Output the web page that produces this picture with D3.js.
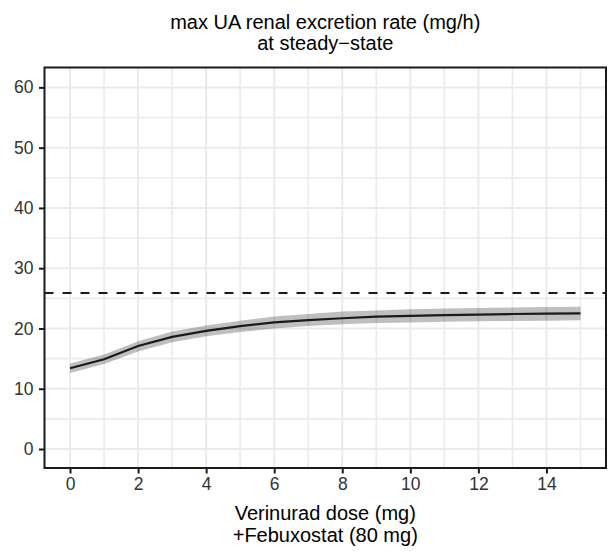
<!DOCTYPE html>
<html>
<head>
<meta charset="utf-8">
<script src="https://cdn.jsdelivr.net/npm/d3@7"></script>
<style>
  body { margin: 0; background: #fff; }
  text { font-family: "Liberation Sans", Arial, sans-serif; }
</style>
</head>
<body>
<script>
var svgWidth = 616;
var svgHeight = 553;

// verinurad dose (mg)
var doses = [0, 1, 2, 3, 4, 5, 6, 7, 8, 9, 10, 11, 12, 13, 14, 15];
// median max UA renal excretion rate (mg/h)
var median = [13.4, 14.9, 17.1, 18.6, 19.6, 20.4, 21.0, 21.4, 21.7, 21.95, 22.1, 22.2, 22.3, 22.4, 22.45, 22.5];
// band (lower / upper)
var lower = [12.6, 14.1, 16.2, 17.7, 18.7, 19.4, 20.0, 20.4, 20.7, 20.9, 21.0, 21.1, 21.2, 21.25, 21.3, 21.35];
var upper = [14.2, 15.7, 17.9, 19.5, 20.5, 21.3, 22.0, 22.4, 22.8, 23.0, 23.2, 23.3, 23.4, 23.5, 23.55, 23.6];
var refLine = 25.9;

var xTicks = [0, 2, 4, 6, 8, 10, 12, 14];
var yTicks = [0, 10, 20, 30, 40, 50, 60];
var titleLines = ["max UA renal excretion rate (mg/h)", "at steady\u2212state"];
var xTitleLines = ["Verinurad dose (mg)", "+Febuxostat (80 mg)"];

var margin = { top: 67.5, right: 10, bottom: 85, left: 44.5 };
var chartWidth = svgWidth - margin.left - margin.right;
var chartHeight = svgHeight - margin.top - margin.bottom;

var svg = d3.select("body").append("svg")
    .attr("width", svgWidth)
    .attr("height", svgHeight);

var chartGroup = svg.append("g")
    .attr("transform", `translate(${margin.left}, ${margin.top})`);

var xScale = d3.scaleLinear()
    .domain([-0.75, 15.75])
    .range([0, chartWidth]);

var yScale = d3.scaleLinear()
    .domain([-3.15, 63.3])
    .range([chartHeight, 0]);

// grid lines (minor then major)
var xMinor = d3.range(1, 16, 2);
var yMinor = d3.range(5, 61, 10);

chartGroup.selectAll(".vminor").data(xMinor).enter().append("line")
    .attr("x1", d => xScale(d)).attr("x2", d => xScale(d))
    .attr("y1", 0).attr("y2", chartHeight)
    .attr("stroke", "#ebebeb").attr("stroke-width", 1.6);
chartGroup.selectAll(".hminor").data(yMinor).enter().append("line")
    .attr("y1", d => yScale(d)).attr("y2", d => yScale(d))
    .attr("x1", 0).attr("x2", chartWidth)
    .attr("stroke", "#ebebeb").attr("stroke-width", 1.6);
chartGroup.selectAll(".vmajor").data(xTicks).enter().append("line")
    .attr("x1", d => xScale(d)).attr("x2", d => xScale(d))
    .attr("y1", 0).attr("y2", chartHeight)
    .attr("stroke", "#ebebeb").attr("stroke-width", 2);
chartGroup.selectAll(".hmajor").data(yTicks).enter().append("line")
    .attr("y1", d => yScale(d)).attr("y2", d => yScale(d))
    .attr("x1", 0).attr("x2", chartWidth)
    .attr("stroke", "#ebebeb").attr("stroke-width", 2);

// ribbon
var rows = doses.map((d, i) => ({ x: d, y: median[i], lo: lower[i], hi: upper[i] }));

var area = d3.area()
    .x(d => xScale(d.x))
    .y0(d => yScale(d.lo))
    .y1(d => yScale(d.hi));

chartGroup.append("path")
    .datum(rows)
    .attr("d", area)
    .attr("fill", "#000")
    .attr("fill-opacity", 0.25);

var line = d3.line()
    .x(d => xScale(d.x))
    .y(d => yScale(d.y));

chartGroup.append("path")
    .datum(rows)
    .attr("d", line)
    .attr("fill", "none")
    .attr("stroke", "#1a1a1a")
    .attr("stroke-width", 2.2);

// reference dashed line
chartGroup.append("line")
    .attr("x1", 0).attr("x2", chartWidth)
    .attr("y1", yScale(refLine)).attr("y2", yScale(refLine))
    .attr("stroke", "#1a1a1a")
    .attr("stroke-width", 2)
    .attr("stroke-dasharray", "9,9");

// panel border
chartGroup.append("rect")
    .attr("x", 0).attr("y", 0)
    .attr("width", chartWidth).attr("height", chartHeight)
    .attr("fill", "none")
    .attr("stroke", "#1a1a1a")
    .attr("stroke-width", 2);

// axes
var xAxis = chartGroup.append("g")
    .attr("transform", `translate(0,${chartHeight})`)
    .call(d3.axisBottom(xScale).tickValues(xTicks).tickSize(5.5).tickPadding(4));

var yAxis = chartGroup.append("g")
    .call(d3.axisLeft(yScale).tickValues(yTicks).tickSize(5.5).tickPadding(5.5));

[xAxis, yAxis].forEach(g => {
    g.select(".domain").remove();
    g.selectAll(".tick line").attr("stroke", "#1a1a1a").attr("stroke-width", 2);
    g.selectAll(".tick text")
        .attr("fill", "#333333")
        .style("font-size", "17.5px")
        .style("font-family", "'Liberation Sans', Arial, sans-serif");
});

// titles
var cx = margin.left + chartWidth / 2;
svg.append("text")
    .attr("text-anchor", "middle")
    .attr("x", cx).attr("y", 29)
    .style("font-size", "20px")
    .attr("fill", "#000")
    .selectAll("tspan").data(titleLines).enter().append("tspan")
    .attr("x", cx)
    .attr("dy", (d, i) => i === 0 ? 0 : 21)
    .text(d => d);

svg.append("text")
    .attr("text-anchor", "middle")
    .attr("x", cx).attr("y", 520)
    .style("font-size", "20px")
    .attr("fill", "#000")
    .selectAll("tspan").data(xTitleLines).enter().append("tspan")
    .attr("x", cx)
    .attr("dy", (d, i) => i === 0 ? 0 : 22)
    .text(d => d);
</script>
</body>
</html>
